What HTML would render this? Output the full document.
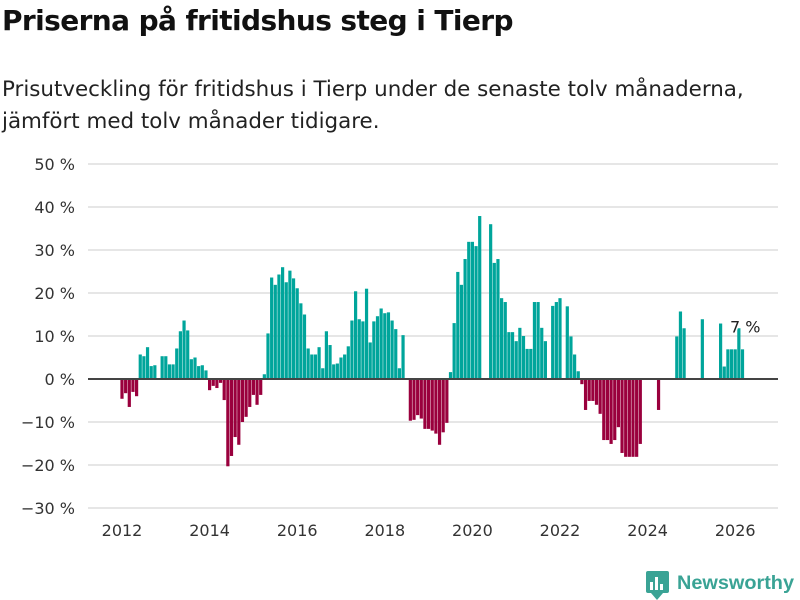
<!DOCTYPE html>
<html><head><meta charset="utf-8"><style>
body{margin:0;background:#fff;width:800px;height:600px;overflow:hidden;font-family:"DejaVu Sans","Liberation Sans",sans-serif;color:#111}
h1{position:absolute;left:2px;top:4px;margin:0;font-size:28px;font-weight:bold;letter-spacing:-0.6px}
.sub{position:absolute;left:2px;top:74px;margin:0;font-size:21.4px;line-height:32px;color:#222}
svg{position:absolute;left:0;top:0}
</style></head><body>
<h1>Priserna på fritidshus steg i Tierp</h1>
<p class="sub">Prisutveckling för fritidshus i Tierp under de senaste tolv månaderna,<br>jämfört med tolv månader tidigare.</p>
<svg id="chart" width="800" height="600"></svg>
<script>
const values=[-4.6,-3.3,-6.5,-3,-4,5.7,5.3,7.4,3,3.2,0,5.3,
5.3,3.4,3.4,7.1,11.1,13.6,11.3,4.6,5,3,3.2,2,
-2.6,-1.6,-2.1,-0.9,-4.9,-20.3,-17.9,-13.5,-15.3,-10,-8.8,-6.5,
-3.7,-6,-3.7,1.1,10.6,23.6,21.9,24.3,26,22.5,25.2,23.4,
21.1,17.6,15,7.1,5.7,5.7,7.4,2.5,11.1,7.9,3.4,3.6,
5,5.7,7.6,13.6,20.4,13.9,13.4,21,8.5,13.4,14.6,16.4,
15.3,15.5,13.6,11.6,2.5,10.2,0,-9.7,-9.5,-8.4,-9.2,-11.6,
-11.6,-12,-12.7,-15.3,-12.4,-10.2,1.6,13,24.9,21.9,27.9,31.9,
31.9,30.9,37.9,0,0,36,27,27.9,18.8,17.9,10.9,10.9,
8.8,11.9,10,7,7,17.9,17.9,11.9,8.8,0,17,17.9,
18.8,0,16.9,9.9,5.7,1.8,-1.2,-7.2,-5.1,-5.1,-6,-8.1,
-14.2,-14.2,-15.1,-14.2,-11.2,-17.2,-18.1,-18.1,-18.1,-18.1,-15.1,0,
0,0,0,-7.2,0,0,0,0,9.9,15.7,11.8,0,
0,0,0,13.9,0,0,0,0,12.9,2.9,6.9,6.9,
6.9,11.8,6.9];
const yTicks=[50,40,30,20,10,0,-10,-20,-30];
const xYears=[2012,2014,2016,2018,2020,2022,2024,2026];
const startYear=2012;
const lastLabel="7 %";

const NS="http://www.w3.org/2000/svg";
const svg=document.getElementById('chart');
const y=v=>379-v*4.3;
const xm=m=>122+m*3.65;
function mk(t,a){const e=document.createElementNS(NS,t);for(const k in a)e.setAttribute(k,a[k]);svg.appendChild(e);return e;}
yTicks.forEach(t=>{
  if(t!==0){const g=mk('line',{x1:88,x2:778,y1:y(t),y2:y(t),stroke:'#ddd','stroke-width':1.5});
  
  }
  const l=mk('text',{x:75,y:y(t)+6,'text-anchor':'end','font-size':16,fill:'#333','font-family':'DejaVu Sans, sans-serif'});
  l.textContent=(t<0?'−'+(-t):t)+' %';
  
  
});
xYears.forEach(yr=>{
  const xx=xm((yr-startYear)*12);
  const l=mk('text',{x:xx,y:536,'text-anchor':'middle','font-size':16,fill:'#333','font-family':'DejaVu Sans, sans-serif'});
  l.textContent=yr;
  
  
});
values.forEach((v,i)=>{
  if(!v)return;
  const b=mk('rect',{x:xm(i)-1.6,width:3.2,y:Math.min(y(v),y(0)),height:Math.abs(y(v)-y(0)),fill:v>0?'#00a59b':'#9a003d'});
  
  
});
const z=mk('line',{x1:88,x2:778,y1:y(0),y2:y(0),stroke:'#444','stroke-width':2});


const li=values.length-1;
const lb=mk('text',{x:xm(li)+18,y:y(values[li])-17,'text-anchor':'end','font-size':16,fill:'#222','font-family':'DejaVu Sans, sans-serif',stroke:'#fff','stroke-width':3,'paint-order':'stroke'});
lb.textContent=lastLabel;


</script>
<svg width="800" height="600" style="pointer-events:none">
<rect x="646" y="571" width="23" height="22" rx="2" fill="#3aa395"/>
<polygon points="651,593 657,600 663,593" fill="#3aa395"/>
<rect x="650" y="582" width="3" height="8" fill="#fff"/><rect x="655" y="577" width="3" height="13" fill="#fff"/><rect x="660" y="584" width="3" height="6" fill="#fff"/>
<text x="677" y="589" font-size="19" font-weight="bold" fill="#3aa395" font-family="Liberation Sans, sans-serif" textLength="117" lengthAdjust="spacingAndGlyphs">Newsworthy</text>
</svg>
</body></html>
